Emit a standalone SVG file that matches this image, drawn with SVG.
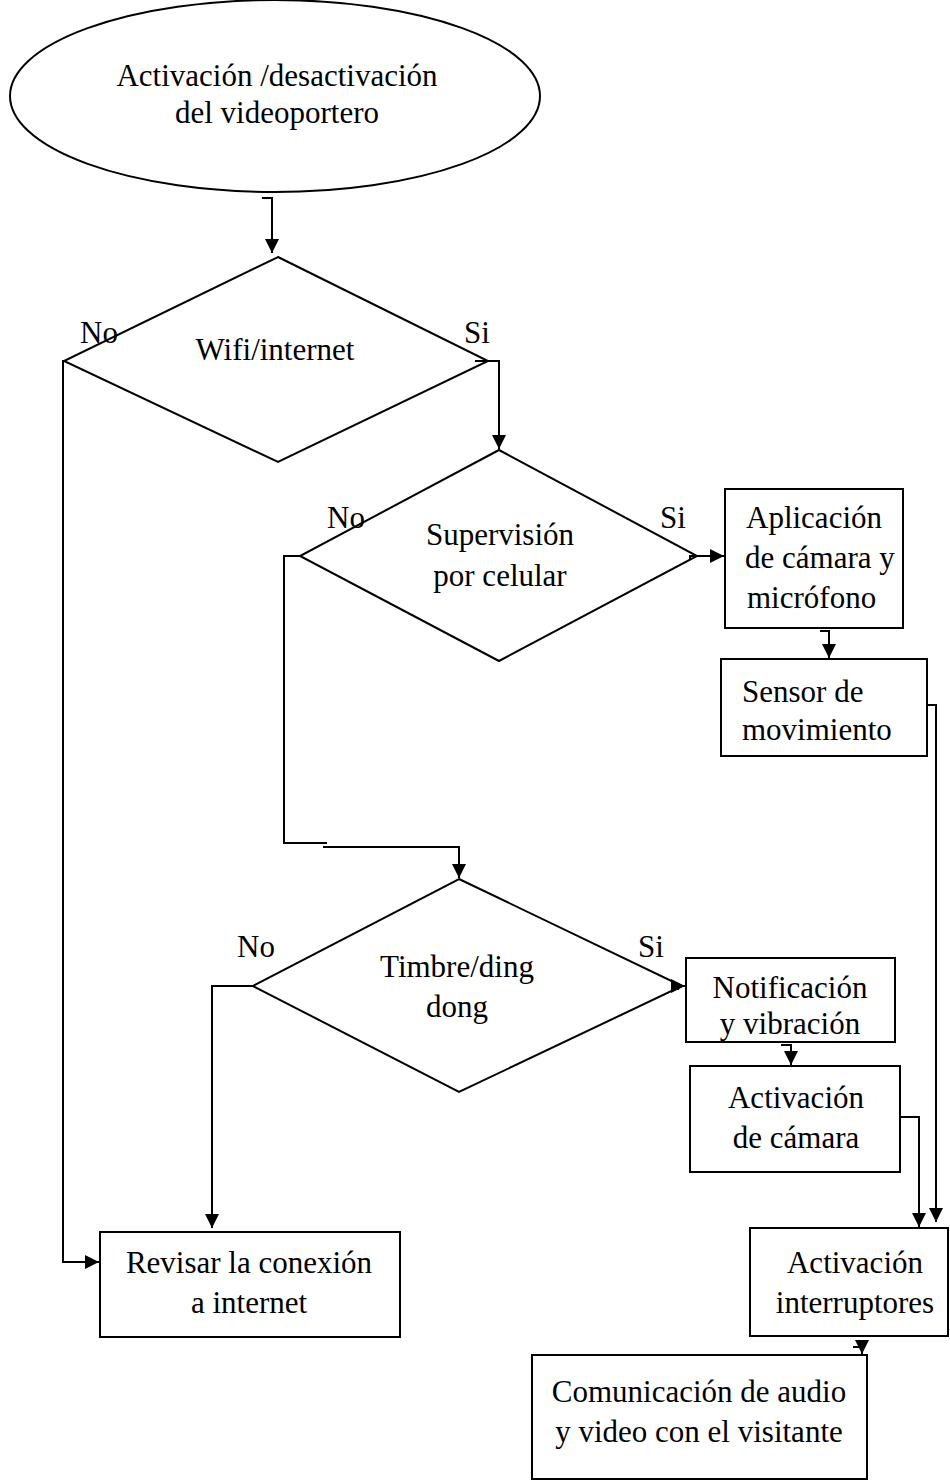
<svg xmlns="http://www.w3.org/2000/svg" width="950" height="1484" viewBox="0 0 950 1484">
  <defs>
    <marker id="arrow" markerUnits="userSpaceOnUse" markerWidth="14" markerHeight="14" refX="14" refY="7" orient="auto">
      <path d="M0,0 L14,7 L0,14 z" fill="#000"/>
    </marker>
    <style>
      .shape { fill: #fff; stroke: #000; stroke-width: 2; }
      .line { fill: none; stroke: #000; stroke-width: 2; }
      .arr { fill: none; stroke: #000; stroke-width: 2; marker-end: url(#arrow); }
      text { font-family: "Liberation Serif", "Times New Roman", serif; font-size: 31px; fill: #000; }
      .c { text-anchor: middle; }
    </style>
  </defs>
  <rect width="950" height="1484" fill="#fff"/>

  <!-- start / end of the flow -->
  <g id="start">
    <ellipse class="shape" cx="275" cy="96" rx="265" ry="96"/>
    <text class="c" x="277" y="86">Activación /desactivación</text>
    <text class="c" x="277" y="123">del videoportero</text>
  </g>

  <!-- decisions -->
  <g id="wifi">
    <polygon class="shape" points="278,257 488,361 278,462 64,361"/>
    <text class="c" x="275" y="360">Wifi/internet</text>
  </g>

  <g id="supervision">
    <polygon class="shape" points="499,450 697,556 499,661 300,556"/>
    <text class="c" x="500" y="545">Supervisión</text>
    <text class="c" x="500" y="586">por celular</text>
  </g>

  <g id="timbre">
    <polygon class="shape" points="459,879 682,986 459,1092 253,986"/>
    <text class="c" x="457" y="977">Timbre/ding</text>
    <text class="c" x="457" y="1017">dong</text>
  </g>

  <!-- process boxes -->
  <g id="app">
    <rect class="shape" x="725" y="489" width="178" height="139"/>
    <text x="746" y="528">Aplicación</text>
    <text x="745" y="568">de cámara y</text>
    <text x="747" y="608">micrófono</text>
  </g>

  <g id="sensor">
    <rect class="shape" x="721" y="659" width="206" height="97"/>
    <text x="742" y="702">Sensor de</text>
    <text x="742" y="740">movimiento</text>
  </g>

  <g id="notificacion">
    <rect class="shape" x="686" y="958" width="209" height="84"/>
    <text class="c" x="790" y="998">Notificación</text>
    <text class="c" x="790" y="1034">y vibración</text>
  </g>

  <g id="camara">
    <rect class="shape" x="690" y="1066" width="210" height="106"/>
    <text class="c" x="796" y="1108">Activación</text>
    <text class="c" x="796" y="1148">de cámara</text>
  </g>

  <g id="revisar">
    <rect class="shape" x="100" y="1232" width="300" height="105"/>
    <text class="c" x="249" y="1273">Revisar la conexión</text>
    <text class="c" x="249" y="1313">a internet</text>
  </g>

  <g id="interruptores">
    <rect class="shape" x="750" y="1228" width="198" height="108"/>
    <text class="c" x="855" y="1273">Activación</text>
    <text class="c" x="855" y="1313">interruptores</text>
  </g>

  <g id="comunicacion">
    <rect class="shape" x="532" y="1355" width="335" height="124"/>
    <text class="c" x="699" y="1402">Comunicación de audio</text>
    <text class="c" x="699" y="1442">y video con el visitante</text>
  </g>

  <!-- branch labels -->
  <g id="labels">
    <text x="80" y="343">No</text>
    <text x="464" y="343">Si</text>
    <text x="327" y="528">No</text>
    <text x="660" y="528">Si</text>
    <text x="237" y="957">No</text>
    <text x="638" y="957">Si</text>
  </g>

  <!-- elbow connectors -->
  <g id="connectors">
    <path class="arr" d="M262,198 H272 V253"/>
    <path class="arr" d="M475,361 H499 V449"/>
    <path class="arr" d="M65,361 H63 V1262 H99"/>
    <path class="arr" d="M690,560 V556 H724"/>
    <path class="line" d="M300,556 H284 V843 H327"/>
    <path class="arr" d="M323,847 H459 V878"/>
    <path class="arr" d="M678,990 V986 H685"/>
    <path class="arr" d="M253,986 H212 V1228"/>
    <path class="arr" d="M820,631 H829 V658"/>
    <path class="arr" d="M781,1045 H791 V1065"/>
    <path class="arr" d="M927,705 H936 V1222"/>
    <path class="arr" d="M900,1117 H919 V1227"/>
    <path class="arr" d="M853,1347 H862 V1354"/>
  </g>
</svg>
